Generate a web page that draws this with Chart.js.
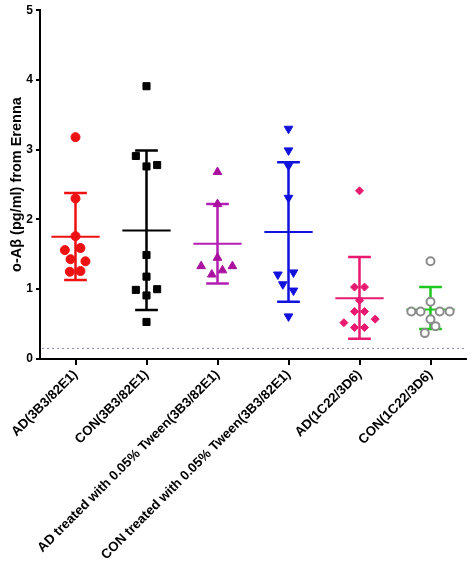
<!DOCTYPE html>
<html>
<head>
<meta charset="utf-8">
<script src="https://cdn.jsdelivr.net/npm/chart.js@4"></script>
<style>
  html, body { margin: 0; padding: 0; background: #fff; }
  #wrap { width: 472px; height: 565px; }
</style>
</head>
<body>
<div id="wrap"><canvas id="myChart"></canvas></div>
<script>
const categories = [
  "AD(3B3/82E1)",
  "CON(3B3/82E1)",
  "AD treated with 0.05% Tween(3B3/82E1)",
  "CON treated with 0.05% Tween(3B3/82E1)",
  "AD(1C22/3D6)",
  "CON(1C22/3D6)",
];

// individual samples per group, and their horizontal spread (in category units)
const ad1 = [3.18, 2.30, 1.76, 1.56, 1.59, 1.43, 1.40, 1.25, 1.26];
const ad1Jitter = [0, 0, 0, -0.15, 0.07, -0.07, 0.14, -0.08, 0.07];
const con1 = [3.91, 2.91, 2.76, 2.78, 1.49, 1.18, 0.99, 1.00, 0.91, 0.53];
const con1Jitter = [0, -0.15, 0, 0.15, 0, 0, -0.15, 0.15, 0, 0];
const adTween = [2.68, 2.22, 1.45, 1.33, 1.33, 1.27, 1.21];
const adTweenJitter = [0, 0, 0, -0.23, 0.21, 0.07, -0.08];
const conTween = [3.30, 2.99, 2.77, 2.31, 1.21, 1.24, 1.07, 0.98, 0.61];
const conTweenJitter = [0, 0, 0, 0, -0.15, 0.07, -0.08, 0.07, 0];
const ad2 = [2.41, 1.03, 1.03, 0.84, 0.68, 0.68, 0.57, 0.52, 0.45, 0.45];
const ad2Jitter = [0, -0.07, 0.07, 0, -0.07, 0.07, 0.22, -0.22, -0.07, 0.07];
const con2 = [1.40, 0.82, 0.68, 0.68, 0.68, 0.68, 0.57, 0.47, 0.37];
const con2Jitter = [0, 0, -0.27, -0.14, 0.13, 0.27, 0, 0.07, -0.08];

// mean and error bar ends
const means = [1.75, 1.84, 1.65, 1.82, 0.87, 0.71];
const upper = [2.38, 2.99, 2.22, 2.82, 1.46, 1.03];
const lower = [1.13, 0.70, 1.08, 0.82, 0.29, 0.43];
const limitLine = 0.15;

const yTicks = [0, 1, 2, 3, 4, 5];

const barColors = ["#ee1111", "#000000", "#b41eb4", "#1212dd", "#e8196e", "#1ec81e"];

function pts(values, jitter, idx) {
  return values.map((v, i) => ({ x: idx + 1 + jitter[i], y: v }));
}

const groupPlugin = {
  id: "groupPlugin",
  beforeDatasetsDraw(chart) {
    const ctx = chart.ctx;
    const x = chart.scales.x;
    const y = chart.scales.y;
    const area = chart.chartArea;
    ctx.save();
    // detection limit
    ctx.strokeStyle = "#8a8aa8";
    ctx.lineWidth = 1;
    ctx.setLineDash([2, 3]);
    ctx.beginPath();
    ctx.moveTo(area.left + 2, y.getPixelForValue(limitLine));
    ctx.lineTo(area.right, y.getPixelForValue(limitLine));
    ctx.stroke();
    ctx.setLineDash([]);
    means.forEach((m, i) => {
      const cx = x.getPixelForValue(i + 1);
      const cap = x.getPixelForValue(i + 1.16) - cx;
      const half = x.getPixelForValue(i + 1.34) - cx;
      const yt = y.getPixelForValue(upper[i]);
      const yb = y.getPixelForValue(lower[i]);
      const ym = y.getPixelForValue(m);
      ctx.strokeStyle = barColors[i];
      ctx.lineWidth = 2.5;
      ctx.beginPath();
      ctx.moveTo(cx, yt); ctx.lineTo(cx, yb);
      ctx.moveTo(cx - cap, yt); ctx.lineTo(cx + cap, yt);
      ctx.moveTo(cx - cap, yb); ctx.lineTo(cx + cap, yb);
      ctx.stroke();
      ctx.lineWidth = 2;
      ctx.beginPath();
      ctx.moveTo(cx - half, ym); ctx.lineTo(cx + half, ym);
      ctx.stroke();
    });
    ctx.restore();
  },
};

const ctx = document.getElementById("myChart");

const chart = new Chart(ctx, {
  type: "scatter",
  data: {
    datasets: [
      { data: pts(ad1, ad1Jitter, 0), pointStyle: "circle", pointRadius: 4.5, backgroundColor: "#ee1111", borderColor: "#ee1111" },
      { data: pts(con1, con1Jitter, 1), pointStyle: "rect", pointRadius: 5, backgroundColor: "#000", borderColor: "#000" },
      { data: pts(adTween, adTweenJitter, 2), pointStyle: "triangle", pointRadius: 5, backgroundColor: "#a8129e", borderColor: "#a8129e" },
      { data: pts(conTween, conTweenJitter, 3), pointStyle: "triangle", rotation: 180, pointRadius: 5, backgroundColor: "#1212dd", borderColor: "#1212dd" },
      { data: pts(ad2, ad2Jitter, 4), pointStyle: "rectRot", pointRadius: 4, backgroundColor: "#e8196e", borderColor: "#e8196e" },
      { data: pts(con2, con2Jitter, 5), pointStyle: "circle", pointRadius: 4, borderWidth: 2, backgroundColor: "#fff", borderColor: "#8c8c8c" },
    ],
  },
  options: {
    responsive: true,
    maintainAspectRatio: false,
    animation: false,
    layout: { padding: { top: 6, right: 3, left: 0, bottom: 0 } },
    plugins: { legend: { display: false }, tooltip: { enabled: false } },
    scales: {
      x: {
        type: "linear",
        min: 0.5,
        max: 6.5,
        afterBuildTicks: (s) => { s.ticks = categories.map((c, i) => ({ value: i + 1 })); },
        grid: { drawOnChartArea: false, drawTicks: true, tickLength: 6, color: "#000", lineWidth: 2 },
        border: { display: true, color: "#000", width: 2 },
        ticks: {
          autoSkip: false,
          minRotation: 45,
          maxRotation: 45,
          padding: 2,
          color: "#000",
          font: { family: "Liberation Sans, Arial", size: 13.3, weight: "bold" },
          callback: (v) => categories[v - 1],
        },
      },
      y: {
        min: 0,
        max: 5,
        afterBuildTicks: (s) => { s.ticks = yTicks.map((v) => ({ value: v })); },
        afterFit: (s) => { s.width = 40; },
        grid: { drawOnChartArea: false, drawTicks: true, tickLength: 4, color: "#000", lineWidth: 2 },
        border: { display: true, color: "#000", width: 2 },
        ticks: {
          padding: 3,
          color: "#000",
          font: { family: "Liberation Sans, Arial", size: 12, weight: "bold" },
        },
        title: {
          display: true,
          text: "o-Aβ (pg/ml) from Erenna",
          color: "#000",
          padding: { top: 8, bottom: 0 },
          font: { family: "Liberation Sans, Arial", size: 14.5, weight: "bold" },
        },
      },
    },
  },
  plugins: [groupPlugin],
});
</script>
</body>
</html>
